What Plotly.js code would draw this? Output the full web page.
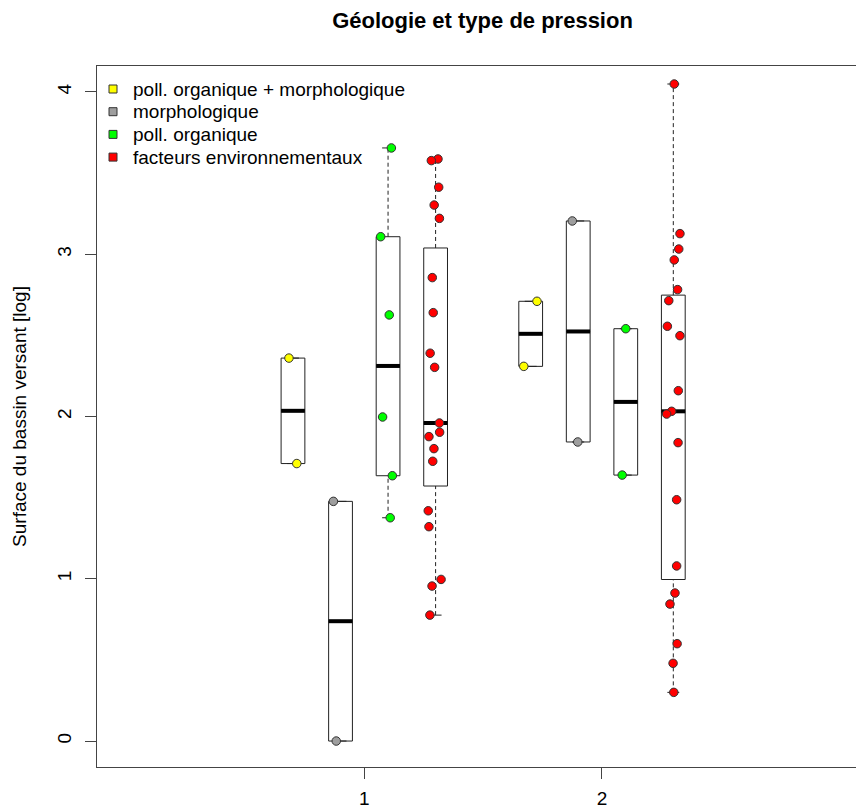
<!DOCTYPE html>
<html>
<head>
<meta charset="utf-8">
<script src="https://cdn.plot.ly/plotly-3.0.1.min.js"></script>
<style>html,body{margin:0;padding:0;background:#fff;}#chart{width:856px;height:811px;}</style>
</head>
<body>
<div id="chart"></div>
<script>
// ---- data ----
const geologyGroups = [1, 2];
const pressureTypes = ['poll. organique + morphologique', 'morphologique', 'poll. organique', 'facteurs environnementaux'];
const typeColors = ['#FFFF00', '#9E9E9E', '#00FF00', '#FF0000'];

// group 1 values (log surface)
const g1_pollMorpho = [2.36, 1.71];
const g1_morpho = [1.477, 0.0];
const g1_pollOrg = [3.655, 3.108, 2.626, 1.997, 1.635, 1.376];
const g1_facteurs = [3.587, 3.577, 3.413, 3.303, 3.221, 2.856, 2.640, 2.390, 2.303, 1.960, 1.903, 1.876, 1.802, 1.724, 1.419, 1.321, 0.996, 0.955, 0.776];
// group 2 values
const g2_pollMorpho = [2.710, 2.309];
const g2_morpho = [3.205, 1.843];
const g2_pollOrg = [2.541, 1.639];
const g2_facteurs = [4.049, 3.127, 3.032, 2.965, 2.782, 2.714, 2.556, 2.498, 2.159, 2.032, 2.015, 1.839, 1.487, 1.079, 0.912, 0.844, 0.600, 0.479, 0.300];

// jittered x of each point
const g1_pollMorpho_jx = [0.683, 0.716];
const g1_morpho_jx = [0.870, 0.882];
const g1_pollOrg_jx = [1.114, 1.069, 1.105, 1.077, 1.118, 1.109];
const g1_facteurs_jx = [1.310, 1.282, 1.313, 1.294, 1.316, 1.286, 1.290, 1.277, 1.296, 1.316, 1.317, 1.272, 1.293, 1.288, 1.269, 1.272, 1.323, 1.285, 1.276];
const g2_pollMorpho_jx = [1.7265, 1.671];
const g2_morpho_jx = [1.875, 1.898];
const g2_pollOrg_jx = [2.100, 2.085];
const g2_facteurs_jx = [2.304, 2.328, 2.323, 2.304, 2.318, 2.281, 2.275, 2.328, 2.321, 2.293, 2.272, 2.320, 2.314, 2.314, 2.307, 2.286, 2.316, 2.299, 2.302];

const xTickLabels = ['1', '2'];
const yTickValues = [0, 1, 2, 3, 4];

// ---- layout constants ----
const typeOffsets = [-0.3, -0.1, 0.1, 0.3];
const boxW = 0.1;
const FONT = 'Liberation Sans, Arial, sans-serif';
const W = 856, H = 811, ML = 97, MR = 0, MT = 66, MB = 44;
const plotW = W - ML - MR, plotH = H - MT - MB;
const px2x = p => (p - ML) / plotW;
const px2y = p => (H - MB - p) / plotH;

const series = [
  [g1_pollMorpho, g1_morpho, g1_pollOrg, g1_facteurs],
  [g2_pollMorpho, g2_morpho, g2_pollOrg, g2_facteurs]
];
const jitters = [
  [g1_pollMorpho_jx, g1_morpho_jx, g1_pollOrg_jx, g1_facteurs_jx],
  [g2_pollMorpho_jx, g2_morpho_jx, g2_pollOrg_jx, g2_facteurs_jx]
];

function fivenum(arr) {
  const x = [...arr].sort((a, b) => a - b);
  const n = x.length;
  const n4 = Math.floor((n + 3) / 2) / 2;
  const d = [1, n4, (n + 1) / 2, n + 1 - n4, n];
  return d.map(v => 0.5 * (x[Math.floor(v) - 1] + x[Math.ceil(v) - 1]));
}
function boxStats(arr) {
  const f = fivenum(arr);
  const iqr = f[3] - f[1];
  const lo = f[1] - 1.5 * iqr, hi = f[3] + 1.5 * iqr;
  const inside = arr.filter(v => v >= lo && v <= hi);
  return { q1: f[1], med: f[2], q3: f[3], wlo: Math.min(...inside), whi: Math.max(...inside) };
}

const bx = [], bq1 = [], bmed = [], bq3 = [];
const whX = [], whY = [], stX = [], stY = [], mdX = [], mdY = [];
geologyGroups.forEach((g, gi) => {
  pressureTypes.forEach((t, ti) => {
    const pos = g + typeOffsets[ti];
    const s = boxStats(series[gi][ti]);
    bx.push(pos); bq1.push(s.q1); bmed.push(s.med); bq3.push(s.q3);
    if (s.whi > s.q3) { whX.push(pos, pos, null); whY.push(s.q3, s.whi, null); }
    if (s.wlo < s.q1) { whX.push(pos, pos, null); whY.push(s.wlo, s.q1, null); }
    stX.push(pos - boxW / 4, pos + boxW / 4, null, pos - boxW / 4, pos + boxW / 4, null);
    stY.push(s.whi, s.whi, null, s.wlo, s.wlo, null);
    mdX.push(pos - boxW / 2, pos + boxW / 2, null);
    mdY.push(s.med, s.med, null);
  });
});

const traces = [];
traces.push({
  type: 'box', x: bx, q1: bq1, median: bmed, q3: bq3, lowerfence: bq1, upperfence: bq3,
  width: boxW, whiskerwidth: 0, boxpoints: false, fillcolor: 'rgba(255,255,255,0)',
  line: { color: '#222', width: 1 }, showlegend: false, hoverinfo: 'skip'
});
traces.push({ type: 'scatter', mode: 'lines', x: whX, y: whY, line: { color: '#222', width: 1, dash: '4px,3px' }, showlegend: false, hoverinfo: 'skip' });
traces.push({ type: 'scatter', mode: 'lines', x: stX, y: stY, line: { color: '#222', width: 1 }, showlegend: false, hoverinfo: 'skip' });
traces.push({ type: 'scatter', mode: 'lines', x: mdX, y: mdY, line: { color: '#000', width: 4 }, showlegend: false, hoverinfo: 'skip' });

pressureTypes.forEach((t, ti) => {
  const xs = [], ys = [];
  geologyGroups.forEach((g, gi) => { xs.push(...jitters[gi][ti]); ys.push(...series[gi][ti]); });
  traces.push({
    type: 'scatter', mode: 'markers', x: xs, y: ys, showlegend: false, name: t,
    marker: { color: typeColors[ti], size: 8.5, line: { color: '#333', width: 1 } }
  });
});

// manual legend (R style): small filled squares + text
const legendTop = 89, legendStep = 22.7, legendSq = 113, legendText = 131;
const annotations = [], shapes = [];
pressureTypes.forEach((t, ti) => {
  const cy = legendTop + ti * legendStep;
  annotations.push({
    xref: 'paper', yref: 'paper', x: px2x(legendText), y: px2y(cy), xanchor: 'left', yanchor: 'middle',
    text: t, showarrow: false, font: { family: FONT, size: 19, color: '#000' }
  });
  shapes.push({
    type: 'rect', xref: 'paper', yref: 'paper',
    x0: px2x(legendSq - 4), x1: px2x(legendSq + 4), y0: px2y(cy + 4), y1: px2y(cy - 4),
    fillcolor: typeColors[ti], line: { color: '#333', width: 1 }
  });
});

const layout = {
  width: W, height: H,
  margin: { l: ML, r: MR, t: MT, b: MB },
  paper_bgcolor: '#fff', plot_bgcolor: '#fff',
  font: { family: FONT, size: 19, color: '#000' },
  title: {
    text: '<b>Géologie et type de pression</b>',
    font: { family: FONT, size: 22, color: '#000' },
    xref: 'container', yref: 'container', x: 482.5 / W, xanchor: 'center', y: 1 - 20 / H, yanchor: 'middle'
  },
  xaxis: {
    range: [-0.1245, 3.0686], tickvals: geologyGroups, ticktext: xTickLabels,
    ticks: 'outside', ticklen: 11, tickcolor: '#444', tickwidth: 1,
    showline: true, mirror: true, linecolor: '#444', linewidth: 1,
    showgrid: false, zeroline: false, tickfont: { size: 19 }, ticklabelstandoff: 3
  },
  yaxis: {
    range: [-0.16, 4.16], tickvals: yTickValues,
    ticks: 'outside', ticklen: 11, tickcolor: '#444', tickwidth: 1, tickangle: -90,
    showline: true, linecolor: '#444', linewidth: 1,
    showgrid: false, zeroline: false, tickfont: { size: 19 }, ticklabelstandoff: 6,
    title: { text: 'Surface du bassin versant [log]', font: { size: 19 }, standoff: 22 }
  },
  showlegend: false,
  annotations: annotations,
  shapes: shapes
};

Plotly.newPlot('chart', traces, layout, { displayModeBar: false, staticPlot: true });
</script>
</body>
</html>
